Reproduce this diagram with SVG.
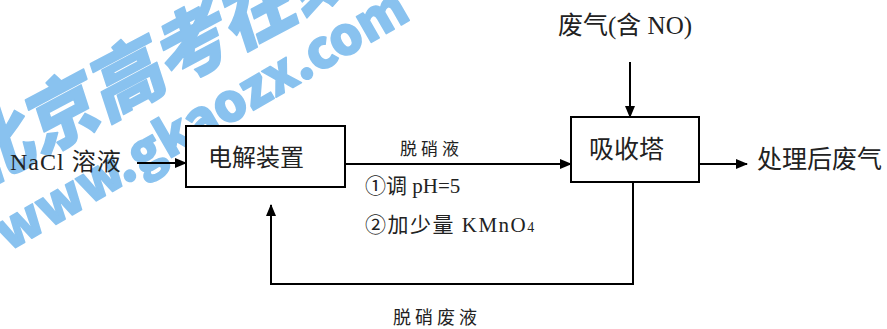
<svg xmlns="http://www.w3.org/2000/svg" width="887" height="329" viewBox="0 0 887 329">
<defs>
<marker id="ah" markerWidth="12" markerHeight="10" refX="11" refY="5" orient="auto" markerUnits="userSpaceOnUse">
<path d="M0,0 L12,5 L0,10 Z" fill="#000"/>
</marker>
<style>
.box{fill:#fff;stroke:#000;stroke-width:2}
.ln{fill:none;stroke:#000;stroke-width:2}
.t{font-family:"Liberation Serif","Noto Sans CJK SC",serif;fill:#222}
.wm{font-family:"Noto Sans CJK SC","Liberation Sans",sans-serif;font-weight:900;fill:#62aeea;stroke:#62aeea;stroke-width:1.5;stroke-linejoin:round;opacity:0.75}
</style>
</defs>
<rect width="887" height="329" fill="#fff"/>
<g id="watermark">
<text class="wm" font-size="74" transform="translate(-26,190) rotate(-28) skewX(-10)">北京高考在线</text>
<text class="wm" font-size="52" font-family="Liberation Sans" transform="translate(8,252) rotate(-30)">www.gkaozx.com</text>
</g>
<g id="connectors">
<line class="ln" x1="137" y1="163" x2="186" y2="163" marker-end="url(#ah)"/>
<line class="ln" x1="345" y1="164" x2="571" y2="164" marker-end="url(#ah)"/>
<line class="ln" x1="630" y1="62" x2="630" y2="117" marker-end="url(#ah)"/>
<line class="ln" x1="699" y1="164" x2="747" y2="164" marker-end="url(#ah)"/>
<polyline class="ln" points="633,182 633,284 271,284 271,205" marker-end="url(#ah)"/>
</g>
<g id="n-nacl"><text class="t" x="10" y="170" font-size="24" letter-spacing="1">NaCl 溶液</text></g>
<g id="n-electrolysis">
<rect class="box" x="186" y="126" width="159" height="61"/>
<text class="t" x="208" y="166" font-size="24">电解装置</text>
</g>
<g id="n-absorber">
<rect class="box" x="571" y="117" width="128" height="65"/>
<text class="t" x="589" y="158" font-size="25">吸收塔</text>
</g>
<g id="n-gas"><text class="t" x="558" y="34" font-size="25">废气(含 NO)</text></g>
<g id="n-out"><text class="t" x="757" y="168" font-size="25">处理后废气</text></g>
<g id="labels">
<text class="t" x="400" y="155" font-size="17" letter-spacing="4">脱硝液</text>
<text class="t" x="365" y="193" font-size="21">①调 pH=5</text>
<text class="t" x="365" y="232" font-size="21" letter-spacing="1.5">②加少量 KMnO<tspan font-size="14">4</tspan></text>
<text class="t" x="393" y="324" font-size="18" letter-spacing="4">脱硝废液</text>
</g>
</svg>
